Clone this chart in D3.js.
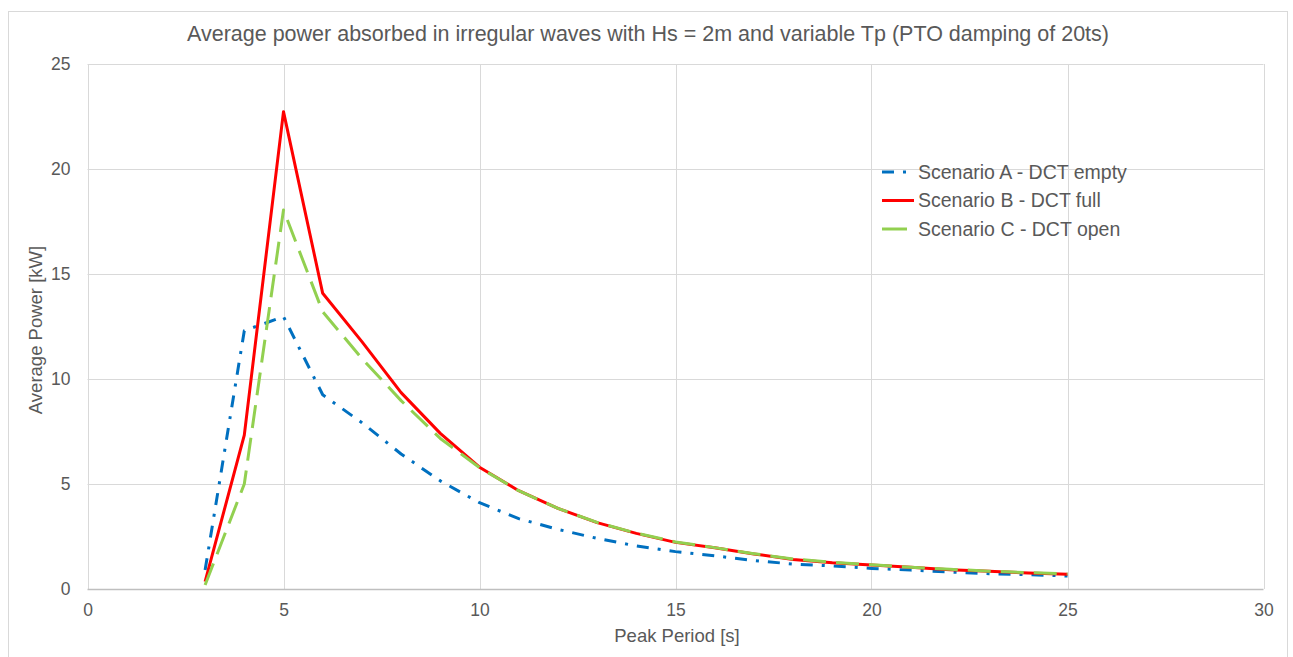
<!DOCTYPE html>
<html>
<head>
<meta charset="utf-8">
<script src="https://cdn.jsdelivr.net/npm/d3@7"></script>
<style>
  html, body { margin: 0; padding: 0; background: #fff; }
  svg { display: block; font-family: "Liberation Sans", Arial, sans-serif; }
</style>
</head>
<body>
<svg id="chart" width="1293" height="657"></svg>
<script>
const periods = [3,4,5,6,7,8,9,10,11,12,13,14,15,16,17,18,19,20,21,22,23,24,25];
const scenarioA = [0.9, 12.3, 12.97, 9.25, 7.92, 6.43, 5.15, 4.11, 3.35, 2.84, 2.41, 2.05, 1.78, 1.58, 1.35, 1.19, 1.1, 0.98, 0.9, 0.81, 0.73, 0.68, 0.62];
const scenarioB = [0.35, 7.33, 22.73, 14.08, 11.78, 9.35, 7.41, 5.8, 4.68, 3.84, 3.16, 2.65, 2.22, 1.96, 1.67, 1.41, 1.25, 1.14, 1.03, 0.92, 0.84, 0.76, 0.7];
const scenarioC = [0.19, 5.0, 18.05, 13.2, 10.98, 8.97, 7.17, 5.78, 4.68, 3.84, 3.17, 2.66, 2.24, 1.97, 1.68, 1.43, 1.27, 1.15, 1.04, 0.94, 0.85, 0.78, 0.72];
const seriesNames = ["Scenario A - DCT empty", "Scenario B - DCT full", "Scenario C - DCT open"];
const xTicks = [0,5,10,15,20,25,30];
const yTicks = [0,5,10,15,20,25];
const titleText = "Average power absorbed in irregular waves with Hs = 2m and variable Tp (PTO damping of 20ts)";
const xTitle = "Peak Period [s]";
const yTitle = "Average Power [kW]";

const svg = d3.select("#chart");
const plot = { left: 87.5, right: 1263.5, top: 64, bottom: 589 };
const textColor = "#595959";

// outer chart border
svg.append("rect").attr("x", 8.5).attr("y", 11.5).attr("width", 1279).attr("height", 660)
  .attr("fill", "#fff").attr("stroke", "#d9d9d9").attr("stroke-width", 1);

const x = d3.scaleLinear().domain([0, 30]).range([plot.left, plot.right]);
const y = d3.scaleLinear().domain([0, 25]).range([plot.bottom, plot.top]);

// gridlines
const g = svg.append("g");
g.selectAll("line.vg").data(xTicks).enter().append("line")
  .attr("x1", d => Math.round(x(d)) + 0.5).attr("x2", d => Math.round(x(d)) + 0.5)
  .attr("y1", plot.top).attr("y2", plot.bottom)
  .attr("stroke", "#d9d9d9").attr("stroke-width", 1);
g.selectAll("line.hg").data(yTicks.filter(d => d > 0)).enter().append("line")
  .attr("x1", plot.left).attr("x2", plot.right)
  .attr("y1", d => Math.round(y(d)) + 0.5).attr("y2", d => Math.round(y(d)) + 0.5)
  .attr("stroke", "#d9d9d9").attr("stroke-width", 1);
// x axis line
svg.append("line").attr("x1", plot.left).attr("x2", plot.right)
  .attr("y1", Math.round(y(0)) + 0.5).attr("y2", Math.round(y(0)) + 0.5)
  .attr("stroke", "#bfbfbf").attr("stroke-width", 1.3);

// axes labels via d3 axes
const xAxis = d3.axisBottom(x).tickValues(xTicks).tickSize(0).tickPadding(15);
const xg = svg.append("g").attr("transform", `translate(0,${plot.bottom})`).call(xAxis);
xg.select(".domain").remove();
xg.selectAll("text").attr("fill", textColor).style("font-size", "17.5px").style("font-family", "Liberation Sans, Arial, sans-serif");

const yAxis = d3.axisLeft(y).tickValues(yTicks).tickSize(0).tickPadding(17);
const yg = svg.append("g").attr("transform", `translate(${plot.left},0)`).call(yAxis);
yg.select(".domain").remove();
yg.selectAll("text").attr("fill", textColor).style("font-size", "17.5px").style("font-family", "Liberation Sans, Arial, sans-serif");

// titles
svg.append("text").attr("x", 648).attr("y", 41).attr("text-anchor", "middle")
  .attr("fill", textColor).style("font-size", "21.5px").text(titleText);
svg.append("text").attr("x", 677).attr("y", 642).attr("text-anchor", "middle")
  .attr("fill", textColor).style("font-size", "18.5px").text(xTitle);
svg.append("text").attr("transform", "translate(42,330) rotate(-90)").attr("text-anchor", "middle")
  .attr("fill", textColor).style("font-size", "18.5px").text(yTitle);

// lines
const series = [
  { name: seriesNames[0], values: scenarioA, color: "#0070C0", width: 3, dash: "12,9,3,9" },
  { name: seriesNames[1], values: scenarioB, color: "#FF0000", width: 3, dash: null },
  { name: seriesNames[2], values: scenarioC, color: "#92D050", width: 3, dash: "23,10" }
];
const line = d3.line().x(d => x(d[0])).y(d => y(d[1]));
series.forEach(s => {
  svg.append("path").datum(periods.map((p, i) => [p, s.values[i]]))
    .attr("d", line).attr("fill", "none")
    .attr("stroke", s.color).attr("stroke-width", s.width)
    .attr("stroke-linejoin", "round")
    .attr("stroke-dasharray", s.dash);
});

// legend
const leg = svg.append("g").attr("transform", "translate(882,172)");
series.forEach((s, i) => {
  const row = leg.append("g").attr("transform", `translate(0,${i * 28.5})`);
  row.append("line").attr("x1", 0).attr("x2", 32).attr("y1", 0).attr("y2", 0)
    .attr("stroke", s.color).attr("stroke-width", s.width)
    .attr("stroke-dasharray", s.dash ? (i === 0 ? "12,9,3,9" : "25,10") : null);
  row.append("text").attr("x", 36).attr("y", 0).attr("dy", "0.35em")
    .attr("fill", textColor).style("font-size", "19.5px").text(s.name);
});
</script>
</body>
</html>
